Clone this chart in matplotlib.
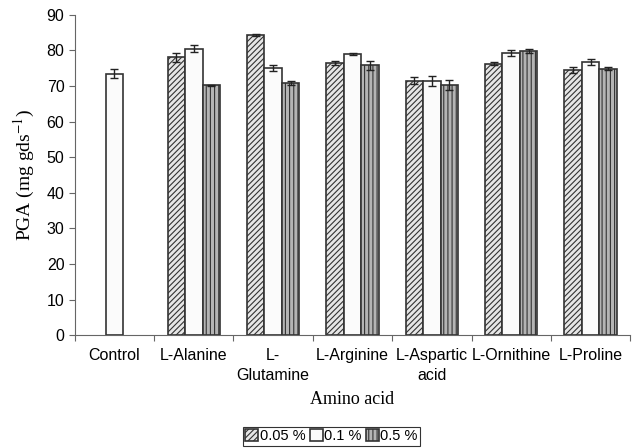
import numpy as np
import matplotlib.pyplot as plt
import matplotlib as mpl

categories = ["Control", "L-Alanine", "L-\nGlutamine", "L-Arginine",
              "L-Aspartic\nacid", "L-Ornithine", "L-Proline"]
series = ["0.05 %", "0.1 %", "0.5 %"]
# nan = no bar for that concentration
vals_005 = [np.nan, 78.0, 84.3, 76.5, 71.5, 76.3, 74.5]
vals_01 = [73.5, 80.5, 75.0, 78.9, 71.5, 79.2, 76.8]
vals_05 = [np.nan, 70.2, 70.8, 75.8, 70.3, 79.8, 74.8]
err_005 = [0, 1.2, 0.3, 0.6, 1.0, 0.4, 0.8]
err_01 = [1.2, 1.0, 0.8, 0.3, 1.4, 0.9, 0.9]
err_05 = [0, 0.2, 0.5, 1.2, 1.4, 0.6, 0.4]

mpl.rcParams['hatch.linewidth'] = 0.8
mpl.rcParams['mathtext.fontset'] = 'stix'
fig = plt.figure(figsize=(6.34, 4.48), dpi=100)
ax = fig.add_axes([0.118, 0.252, 0.876, 0.715])

x = np.arange(len(categories))
w = 0.22
styles = [
    dict(facecolor="#e6e6e6", hatch="//////", edgecolor="#333333"),
    dict(facecolor="#fbfbfb", hatch="", edgecolor="#333333"),
    dict(facecolor="#b4b4b4", hatch="||||", edgecolor="#333333"),
]
data = [(vals_005, err_005), (vals_01, err_01), (vals_05, err_05)]
for k, (v, e) in enumerate(data):
    pos = x + (k - 1) * w
    ax.bar(pos, v, w, yerr=e, capsize=3, error_kw=dict(elinewidth=1, ecolor="#222222", capthick=1),
           linewidth=1.2, label=series[k], **styles[k])

ax.set_xlim(-0.5, len(categories) - 0.5)
ax.set_ylim(0, 90)
ax.set_yticks(range(0, 91, 10))
ax.set_xticks(np.arange(-0.5, len(categories), 1.0))
ax.set_xticklabels([])
ax.set_xticks(x, minor=True)
ax.set_xticklabels(categories, minor=True, fontsize=11.5, family="Liberation Sans",
                   linespacing=1.45)
ax.tick_params(axis="x", which="minor", length=0, pad=9)
ax.tick_params(axis="x", which="major", length=4, color="#666666")
ax.tick_params(axis="y", length=4, color="#666666", labelsize=11.5)
for t in ax.get_yticklabels():
    t.set_family("Liberation Sans")
for s in ["top", "right"]:
    ax.spines[s].set_visible(False)
ax.spines["left"].set_color("#666666")
ax.spines["bottom"].set_color("#666666")

ax.set_ylabel("PGA (mg gds$^{-1}$)", family="Liberation Serif", fontsize=14, labelpad=7)
ax.set_xlabel("Amino acid", family="Liberation Serif", fontsize=13, labelpad=6)

leg = ax.legend(loc="center", bbox_to_anchor=(0.462, -0.316), ncol=3, frameon=True,
                fancybox=False, edgecolor="black", prop=dict(family="Liberation Sans", size=10.5),
                handlelength=0.9, handleheight=0.9, handletextpad=0.1, columnspacing=0.3,
                borderpad=0.15, borderaxespad=0)
leg.get_frame().set_linewidth(0.8)

fig.savefig("out.png", dpi=100)
